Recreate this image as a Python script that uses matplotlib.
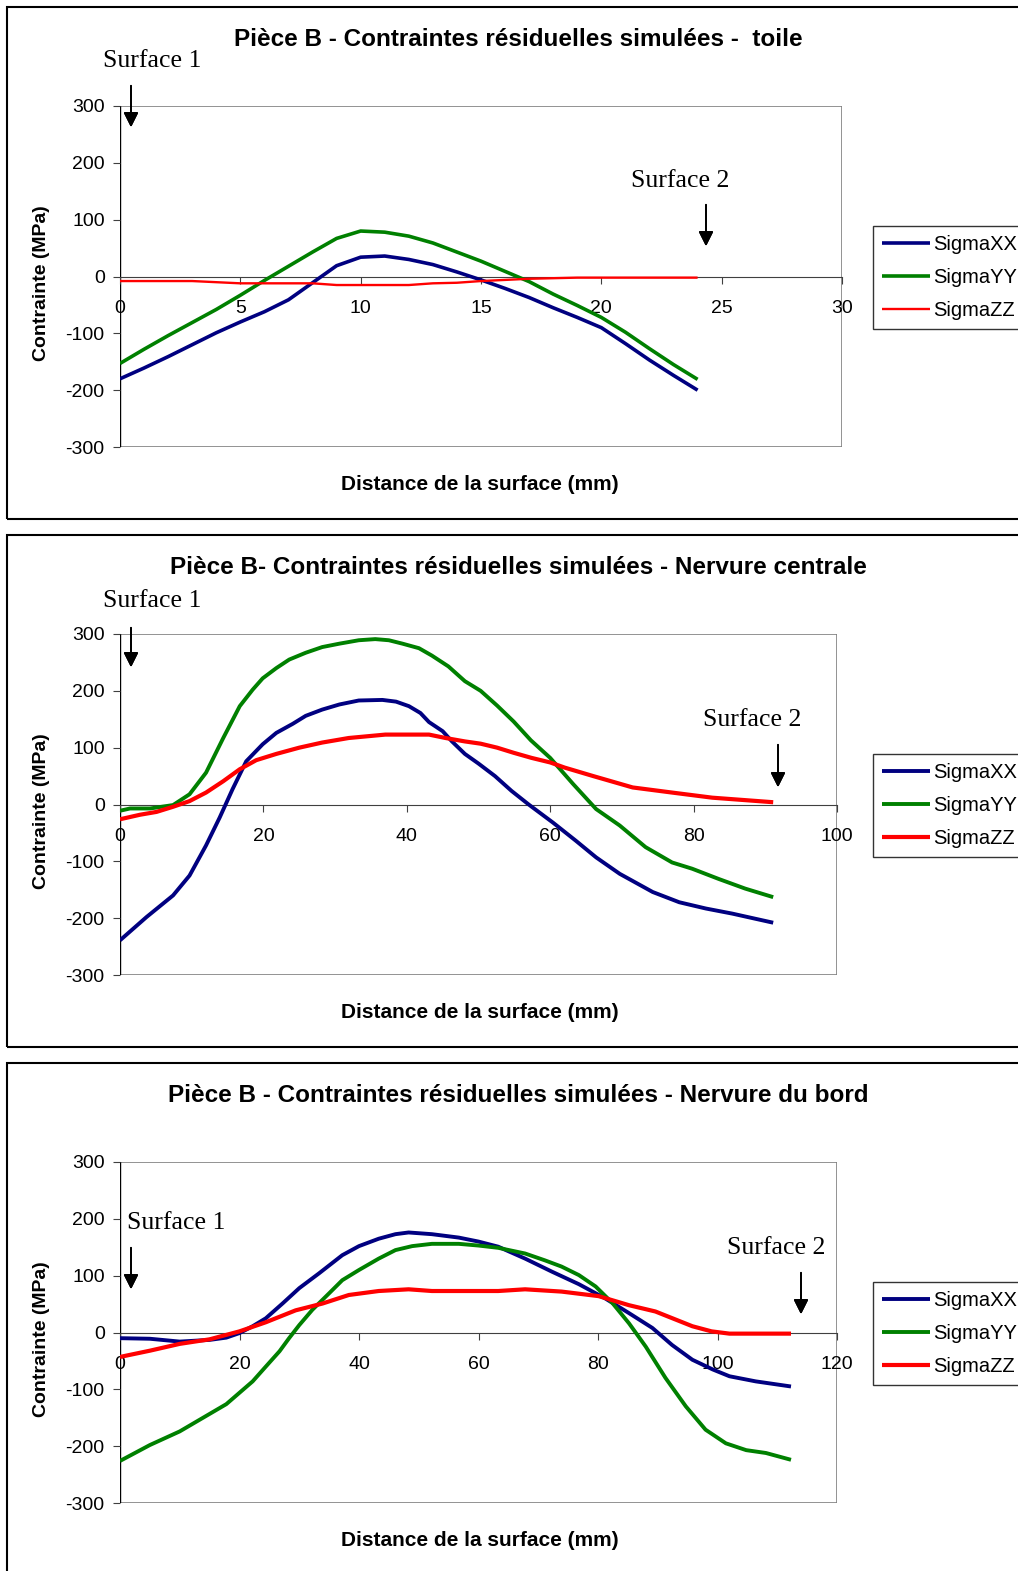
import numpy as np
import matplotlib.pyplot as plt
from matplotlib.patches import Rectangle

plt.rcParams['font.family'] = ['Liberation Sans', 'DejaVu Sans']
plt.rcParams['axes.unicode_minus'] = False

W, H = 1018, 1571

# --- Panel 1 : toile ---
x_toile = [0, 1, 2, 3, 4, 5, 6, 7, 8, 9, 10, 11, 12, 13, 14, 15, 16, 17, 18, 19, 20, 21, 22, 23, 24]
xx_toile = [-180, -161, -141, -120, -99, -80, -62, -41, -11, 19, 34, 36, 30, 21, 8, -6,
            -21, -37, -55, -72, -90, -118, -147, -174, -200]
yy_toile = [-153, -128, -104, -81, -58, -33, -7, 18, 43, 67, 80, 78, 71, 59, 43, 27,
            9, -9, -31, -51, -72, -98, -127, -155, -181]
zz_toile = [-8, -8, -8, -8, -10, -12, -12, -12, -12, -15, -15, -15, -15, -12, -11, -8,
            -6, -4, -3, -2, -2, -2, -2, -2, -2]

# --- Panel 2 : nervure centrale ---
x_xx_cent = [0, 3.7, 7.4, 9.7, 12, 13.9, 15.7, 17.6, 19.9, 21.8, 24.1, 25.9, 28.2, 30.6, 33.3,
             36.6, 38.5, 40.3, 41.9, 43.1, 45, 46.3, 48.1, 50, 52.3, 54.6, 57, 60.4, 63.6,
             66.4, 69.7, 74.3, 78, 81.7, 85.4, 88.6, 91.1]
xx_cent = [-239, -198, -160, -125, -72, -23, 27, 76, 106, 126, 142, 156, 167, 176, 183,
           184, 181, 173, 161, 145, 129, 111, 89, 72, 50, 24, 0, -32, -64,
           -93, -122, -154, -172, -183, -192, -201, -208]
x_yy_cent = [0, 1.4, 4.2, 7.4, 9.7, 12, 14.4, 16.7, 18.5, 19.9, 21.8, 23.6, 25.9, 28.2, 30.6,
             33.3, 35.6, 37.5, 39.4, 41.7, 43.5, 45.8, 48.1, 50.3, 52.6, 54.9, 57.3, 60,
             63.2, 66.4, 69.7, 73.3, 77, 79.8, 83.5, 87.2, 91.1]
yy_cent = [-11, -7, -7, -1, 18, 56, 117, 173, 202, 222, 240, 255, 267, 277, 283,
           289, 291, 289, 283, 275, 262, 243, 217, 200, 174, 146, 113, 82,
           36, -8, -37, -75, -102, -113, -131, -148, -163]
x_zz_cent = [0, 2.8, 5.1, 7.4, 9.7, 12, 14.4, 16.7, 19, 21.8, 25, 28.2, 31.9, 37, 43.1,
             45.4, 48.1, 50.3, 52.6, 54.9, 57.4, 60, 62, 66, 71.5, 77, 82.6, 91.1]
zz_cent = [-26, -18, -13, -4, 6, 21, 41, 62, 78, 89, 100, 109, 117, 123, 123,
           117, 111, 107, 100, 91, 82, 74, 65, 50, 30, 21, 12, 4]

# --- Panel 3 : nervure du bord ---
x_xx_bord = [0, 5, 10, 15, 17.8, 20, 22.2, 24.4, 27.2, 30, 33.3, 37.2, 40, 43.3, 46.1, 48.3,
             52.2, 56.7, 60, 63.3, 67.8, 72.3, 76.8, 81.2, 85.2, 89.1, 92.4, 95.8, 99.2,
             102, 106.4, 112.3]
xx_bord = [-10, -11, -16, -13, -9, -1, 11, 25, 51, 78, 104, 136, 152, 165, 173, 176,
           173, 167, 160, 151, 130, 107, 85, 60, 34, 8, -22, -48, -65,
           -77, -86, -95]
x_yy_bord = [0, 5, 10, 13.9, 17.8, 20, 22.2, 24.4, 26.7, 28.3, 30, 32.2, 35, 37.2, 40, 43.3,
             46.1, 48.9, 52.2, 56.7, 60, 63.3, 67.8, 71.1, 73.9, 76.8, 79.6, 82.4, 85.2,
             88, 91.3, 94.7, 98, 101.4, 104.8, 108.1, 112.3]
yy_bord = [-226, -198, -174, -150, -126, -106, -86, -60, -33, -10, 13, 40, 69, 92, 110, 130,
           145, 152, 156, 156, 153, 149, 139, 127, 116, 101, 81, 52, 16,
           -25, -80, -130, -171, -195, -207, -212, -224]
x_zz_bord = [0, 5, 10, 15, 20, 24.4, 29.4, 33.9, 38.3, 43.3, 48.3, 52.2, 57.8, 63.3, 67.8,
             73.9, 80.1, 85.2, 89.6, 95.8, 99, 102, 112.3]
zz_bord = [-43, -32, -20, -12, 2, 18, 39, 51, 66, 73, 76, 73, 73, 73, 76,
           72, 64, 48, 37, 11, 2, -2, -2]

y_ticks = [-300, -200, -100, 0, 100, 200, 300]
series_names = ['SigmaXX', 'SigmaYY', 'SigmaZZ']
series_colors = ['#000080', '#008000', '#FF0000']


def fx(px):
    return px / W


def fy(py):
    return 1 - py / H


# draw one framed chart; geometry in pixels of the full picture
def draw_panel(fig, frame, box, title, series, xmax, xstep, widths, s1, s2):
    fx0, fy0, fx1, fy1 = frame
    fig.patches.append(Rectangle((fx(fx0), fy(fy1)), fx(fx1 - fx0), (fy1 - fy0) / H,
                                 transform=fig.transFigure, fill=False, ec='black', lw=1.5))
    left, top, right, bottom = box
    ax = fig.add_axes([fx(left), fy(bottom), fx(right - left), (bottom - top) / H])
    for (xs, ys), name, col, lw in zip(series, series_names, series_colors, widths):
        ax.plot(xs, ys, color=col, lw=lw, label=name, solid_capstyle='butt')
    ax.set_xlim(0, xmax)
    ax.set_ylim(-300, 300)
    ax.set_yticks(y_ticks)
    ax.set_xticks(np.arange(0, xmax + 0.1, xstep))
    for s in ['top', 'right', 'left']:
        ax.spines[s].set_visible(False)
    ax.spines['bottom'].set_position(('data', 0))
    ax.spines['bottom'].set_color('#404040')
    ax.spines['bottom'].set_zorder(1)
    ax.add_patch(Rectangle((0, 0), 1, 1, transform=ax.transAxes, fill=False,
                           ec='#808080', lw=1.2, zorder=0.5))
    ax.axvline(0, color='black', lw=1.0, zorder=1)
    ax.tick_params(axis='x', direction='out', length=5, color='#404040', labelsize=14, pad=12)
    ax.tick_params(axis='y', direction='out', length=5, color='#404040', labelsize=14, pad=6)
    ax.set_facecolor('white')

    fig.text(0.509, fy(frame[1] + 33), title, ha='center', va='center',
             fontsize=17.5, fontweight='bold')
    fig.text(fx(480), fy(bottom + 37), 'Distance de la surface (mm)', ha='center',
             va='center', fontsize=15, fontweight='bold')
    fig.text(fx(42), fy((top + bottom) / 2 + 7), 'Contrainte (MPa)', ha='center',
             va='center', rotation=90, fontsize=14, fontweight='bold')

    leg = ax.legend(loc='upper left', bbox_to_anchor=(fx(873), fy(box[1] + 120)),
                    bbox_transform=fig.transFigure, frameon=True, fancybox=False,
                    edgecolor='black', fontsize=14.5, handlelength=2.4, handletextpad=0.15,
                    labelspacing=0.7, borderpad=0.45, borderaxespad=0)
    leg.get_frame().set_linewidth(1.0)

    # Surface 1 / Surface 2 markers
    for (tx, ty, ax0, ay0, ay1), txt in zip([s1, s2], ['Surface 1', 'Surface 2']):
        fig.text(fx(tx), fy(ty), txt, ha='center', va='center', fontsize=18.5,
                 family=['Liberation Serif', 'DejaVu Serif'])
        fig.add_artist(plt.annotate('', xy=(fx(ax0), fy(ay1)), xytext=(fx(ax0), fy(ay0)),
                                    xycoords='figure fraction', textcoords='figure fraction',
                                    arrowprops=dict(arrowstyle='-|>', color='black', lw=1.3,
                                                    mutation_scale=22)))
    return ax


fig = plt.figure(figsize=(W / 100, H / 100), dpi=100)

draw_panel(fig, (7, 7, 1030, 519), (120, 106, 842, 447),
           'Pièce B - Contraintes résiduelles simulées -  toile',
           [(x_toile, xx_toile), (x_toile, yy_toile), (x_toile, zz_toile)],
           30, 5, [2.6, 2.6, 1.7],
           (152, 61, 131, 83, 130), (680, 181, 706, 202, 249))

draw_panel(fig, (7, 535, 1030, 1047), (120, 634, 837, 975),
           'Pièce B- Contraintes résiduelles simulées - Nervure centrale',
           [(x_xx_cent, xx_cent), (x_yy_cent, yy_cent), (x_zz_cent, zz_cent)],
           100, 20, [2.8, 2.8, 3.0],
           (152, 601, 131, 625, 670), (752, 720, 778, 742, 790))

draw_panel(fig, (7, 1063, 1030, 1590), (120, 1162, 837, 1503),
           'Pièce B - Contraintes résiduelles simulées - Nervure du bord',
           [(x_xx_bord, xx_bord), (x_yy_bord, yy_bord), (x_zz_bord, zz_bord)],
           120, 20, [2.8, 2.8, 3.0],
           (176, 1223, 131, 1245, 1292), (776, 1248, 801, 1270, 1317))

fig.savefig('out.png', dpi=100)
